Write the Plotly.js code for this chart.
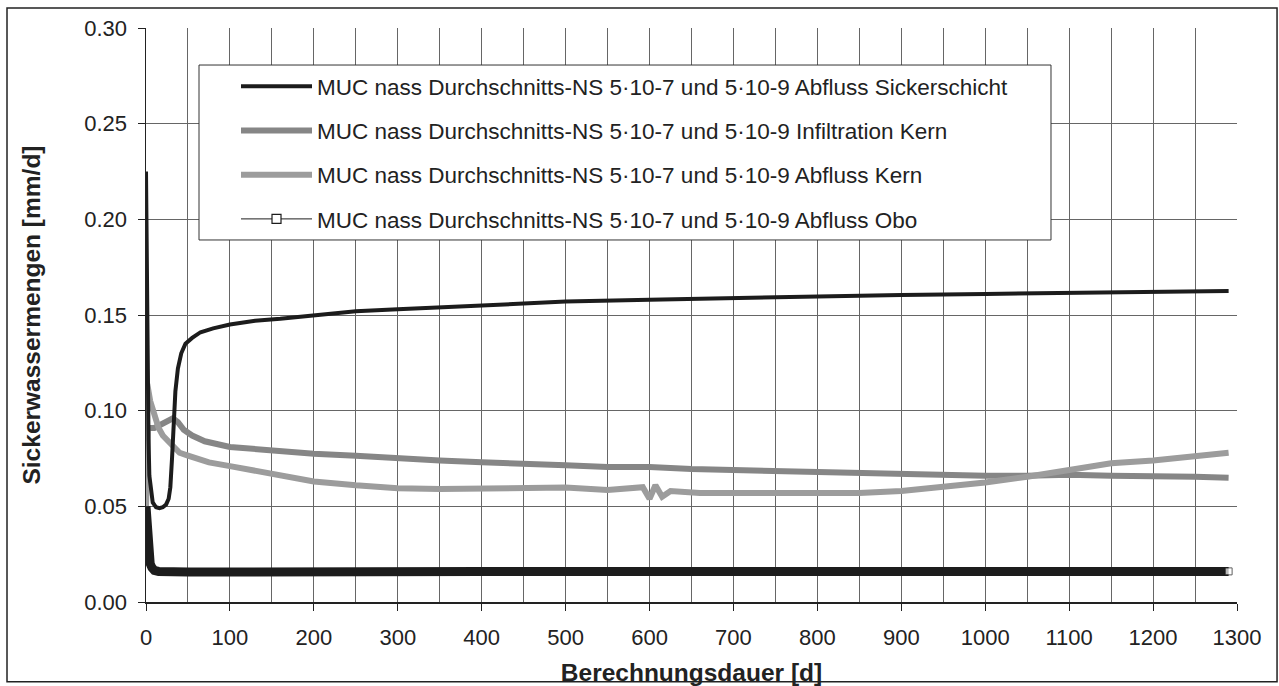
<!DOCTYPE html>
<html>
<head>
<meta charset="utf-8">
<script src="https://cdn.plot.ly/plotly-3.0.1.min.js"></script>
<style>
  html, body { margin: 0; padding: 0; background: #ffffff; }
  #chart { width: 1279px; height: 686px; }
</style>
</head>
<body>
<div id="chart"></div>
<script>
// ---- Data ----
const seriesNames = [
  "MUC nass Durchschnitts-NS 5·10-7 und 5·10-9 Abfluss Sickerschicht",
  "MUC nass Durchschnitts-NS 5·10-7 und 5·10-9 Infiltration Kern",
  "MUC nass Durchschnitts-NS 5·10-7 und 5·10-9 Abfluss Kern",
  "MUC nass Durchschnitts-NS 5·10-7 und 5·10-9 Abfluss Obo"
];

// Abfluss Sickerschicht [days, mm/d]
const sickerDays = [0, 1, 2, 3, 4, 6, 8, 12, 16, 20, 24, 27, 29, 31, 33, 35, 38, 42, 47, 55, 65, 80, 100, 130, 160, 200, 250, 300, 350, 400, 450, 500, 600, 700, 800, 900, 1000, 1100, 1200, 1290];
const sickerVals = [0.225, 0.160, 0.115, 0.085, 0.066, 0.056, 0.052, 0.0495, 0.049, 0.0495, 0.051, 0.054, 0.060, 0.075, 0.095, 0.110, 0.122, 0.130, 0.135, 0.138, 0.141, 0.143, 0.145, 0.147, 0.148, 0.150, 0.152, 0.153, 0.154, 0.155, 0.156, 0.157, 0.158, 0.159, 0.160, 0.1605, 0.161, 0.1615, 0.162, 0.1625];

// Infiltration Kern
const infilDays = [0, 1, 2, 10, 20, 28, 32, 38, 45, 55, 70, 100, 150, 200, 250, 300, 350, 400, 450, 500, 550, 600, 650, 700, 750, 800, 850, 900, 950, 1000, 1050, 1100, 1150, 1200, 1250, 1290];
const infilVals = [0.050, 0.091, 0.091, 0.091, 0.093, 0.095, 0.096, 0.094, 0.090, 0.087, 0.084, 0.081, 0.079, 0.0775, 0.0765, 0.075, 0.074, 0.073, 0.0725, 0.0715, 0.0705, 0.0705, 0.0695, 0.069, 0.068, 0.0675, 0.067, 0.0665, 0.0665, 0.066, 0.066, 0.0665, 0.066, 0.066, 0.0655, 0.065];

// Abfluss Kern
const kernDays = [0, 1.5, 5, 10, 15, 20, 30, 40, 50, 75, 100, 150, 200, 250, 300, 350, 400, 450, 500, 550, 592, 600, 607, 615, 625, 660, 700, 750, 800, 850, 900, 950, 1000, 1050, 1100, 1150, 1200, 1250, 1290];
const kernVals = [0.050, 0.114, 0.105, 0.097, 0.091, 0.087, 0.082, 0.078, 0.0765, 0.073, 0.071, 0.067, 0.063, 0.061, 0.0595, 0.059, 0.0595, 0.0595, 0.0598, 0.0585, 0.060, 0.054, 0.061, 0.055, 0.058, 0.057, 0.057, 0.0565, 0.0565, 0.057, 0.058, 0.060, 0.0625, 0.0655, 0.069, 0.0725, 0.074, 0.076, 0.078];

// Abfluss Obo
const oboDays = [0, 1, 2, 3, 4, 5, 7, 10, 15, 20, 50, 100, 200, 400, 600, 800, 1000, 1200, 1290];
const oboVals = [0.050, 0.040, 0.032, 0.026, 0.022, 0.020, 0.018, 0.0165, 0.016, 0.0158, 0.0157, 0.0157, 0.016, 0.016, 0.016, 0.016, 0.016, 0.016, 0.016];

// x / y tick settings
const xTickStep = 100;
const yTickStep = 0.05;

// ---- Styling ----
const FONT = "Liberation Sans, Arial, Helvetica, sans-serif";
const oboMarkerSizes = oboDays.map((d, i) => (i === oboDays.length - 1 ? 7 : 0));

const traces = [
  {
    x: infilDays, y: infilVals, name: seriesNames[1], mode: "lines",
    line: { color: "#868686", width: 6 }, legendrank: 2, legendgroup: "g2"
  },
  {
    x: kernDays, y: kernVals, name: seriesNames[2], mode: "lines",
    line: { color: "#9c9c9c", width: 6 }, legendrank: 3, legendgroup: "g3"
  },
  {
    x: sickerDays, y: sickerVals, name: seriesNames[0], mode: "lines",
    line: { color: "#1c1c1c", width: 4 }, legendrank: 1, legendgroup: "g1"
  },
  {
    x: oboDays, y: oboVals, name: seriesNames[3], mode: "lines+markers",
    line: { color: "#1c1c1c", width: 9 },
    marker: { symbol: "square", size: oboMarkerSizes, color: "#ffffff", line: { color: "#1c1c1c", width: 1 } },
    showlegend: false, legendgroup: "g4"
  },
  {
    x: [null], y: [null], name: seriesNames[3], mode: "lines+markers",
    line: { color: "#1c1c1c", width: 1 },
    marker: { symbol: "square", size: 9, color: "#ffffff", line: { color: "#1c1c1c", width: 1.2 } },
    legendrank: 4, legendgroup: "g4"
  }
];

const layout = {
  width: 1279, height: 686,
  margin: { l: 146, r: 42, t: 28, b: 84 },
  paper_bgcolor: "#ffffff", plot_bgcolor: "#ffffff",
  font: { family: FONT, size: 22, color: "#222222" },
  showlegend: true,
  legend: {
    x: 0.0825, y: 0.9355, xanchor: "left", yanchor: "top",
    bgcolor: "rgba(0,0,0,0)", borderwidth: 0,
    font: { family: FONT, size: 22.5, color: "#222222" },
    traceorder: "grouped", tracegroupgap: 12, itemwidth: 71
  },
  xaxis: {
    range: [0, 1300], tick0: 0, dtick: xTickStep,
    ticks: "outside", ticklen: 7, tickcolor: "#222222", tickwidth: 1,
    ticklabelstandoff: 8,
    showline: true, linecolor: "#222222", linewidth: 1.5,
    showgrid: true, gridcolor: "#666666", gridwidth: 1,
    minor: { dtick: xTickStep / 2, showgrid: true, gridcolor: "#666666", gridwidth: 1, ticks: "" },
    zeroline: false,
    tickfont: { family: FONT, size: 22, color: "#222222" },
    title: { text: "<b>Berechnungsdauer [d]</b>", font: { family: FONT, size: 24.5, color: "#222222" }, standoff: 15 }
  },
  yaxis: {
    range: [0, 0.3], tick0: 0, dtick: yTickStep, tickformat: ".2f",
    ticks: "outside", ticklen: 7, tickcolor: "#222222", tickwidth: 1,
    ticklabelstandoff: 6,
    showline: true, linecolor: "#222222", linewidth: 1.5,
    showgrid: true, gridcolor: "#666666", gridwidth: 1,
    zeroline: false,
    tickfont: { family: FONT, size: 22, color: "#222222" },
    title: { text: "<b>Sickerwassermengen [mm/d]</b>", font: { family: FONT, size: 24.5, color: "#222222" }, standoff: 36 }
  },
  shapes: [
    {
      // legend frame (white box covering the grid)
      type: "rect", xref: "paper", yref: "paper",
      x0: 0.04858, x1: 0.8295, y0: 0.6307, y1: 0.9355,
      line: { color: "#333333", width: 1 }, fillcolor: "#ffffff", layer: "above"
    },
    {
      // outer chart frame
      type: "rect", xref: "paper", yref: "paper",
      x0: -0.1274, x1: 1.0367, y0: -0.139, y1: 1.0348,
      line: { color: "#222222", width: 1.5 }, fillcolor: "rgba(0,0,0,0)", layer: "above"
    }
  ]
};

Plotly.newPlot("chart", traces, layout, { displayModeBar: false, staticPlot: true });
</script>
</body>
</html>
